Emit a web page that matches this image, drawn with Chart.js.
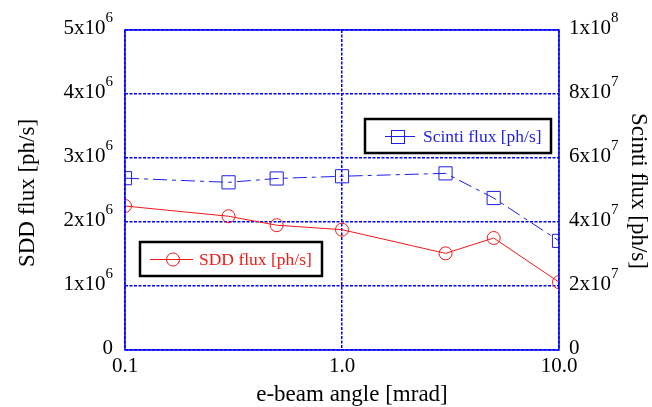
<!DOCTYPE html>
<html>
<head>
<meta charset="utf-8">
<script src="https://cdn.jsdelivr.net/npm/chart.js@4"></script>
<style>
  html, body { margin: 0; padding: 0; background: #fff; }
  #wrap { width: 652px; height: 407px; position: relative; }
</style>
</head>
<body>
<div id="wrap"><canvas id="fluxChart"></canvas></div>
<script>
// e-beam angle [mrad]
const angles = [0.1, 0.3, 0.5, 1.0, 3.0, 5.0, 10.0];
// SDD flux [ph/s] (left axis)
const sddFlux = [2.25e6, 2.09e6, 1.95e6, 1.88e6, 1.51e6, 1.75e6, 1.06e6];
// Scinti flux [ph/s] (right axis)
const scintiFlux = [5.37e7, 5.24e7, 5.36e7, 5.43e7, 5.52e7, 4.75e7, 3.41e7];

const xTickValues = [0.1, 1.0, 10.0];
const xTickLabels = ['0.1', '1.0', '10.0'];
const leftTickValues = [0, 1e6, 2e6, 3e6, 4e6, 5e6];
const leftTickMant = ['0', '1x10', '2x10', '3x10', '4x10', '5x10'];
const leftTickExp = ['', '6', '6', '6', '6', '6'];
const rightTickValues = [0, 2e7, 4e7, 6e7, 8e7, 1e8];
const rightTickMant = ['0', '2x10', '4x10', '6x10', '8x10', '1x10'];
const rightTickExp = ['', '7', '7', '7', '7', '8'];

const RED = 'rgb(240,25,25)';
const BLUE = 'rgb(30,30,230)';
const GRID = 'rgb(0,0,255)';
const SERIF = '"Liberation Serif", "Times New Roman", serif';

function toPoints(xs, ys) {
    return xs.map((x, i) => ({ x: x, y: ys[i] }));
}

function drawSupLabel(ctx, mant, exp, x, y, align) {
    ctx.font = '21px ' + SERIF;
    const wMain = ctx.measureText(mant).width;
    ctx.font = '15px ' + SERIF;
    const wExp = exp ? ctx.measureText(exp).width : 0;
    let start = align === 'right' ? x - wMain - wExp : x;
    ctx.textAlign = 'left';
    ctx.textBaseline = 'middle';
    ctx.font = '21px ' + SERIF;
    ctx.fillText(mant, start, y);
    if (exp) {
        ctx.font = '15px ' + SERIF;
        ctx.fillText(exp, start + wMain, y - 10);
    }
}

const labelsPlugin = {
    id: 'labelsPlugin',
    afterDraw(chart) {
        const ctx = chart.ctx;
        const area = chart.chartArea;
        const xs = chart.scales.x;
        const ys = chart.scales.y;
        const ys1 = chart.scales.y1;
        ctx.save();

        // plot frame
        ctx.strokeStyle = GRID;
        ctx.lineWidth = 1.5;
        ctx.strokeRect(area.left, area.top, area.right - area.left, area.bottom - area.top);

        ctx.fillStyle = '#000';
        // x tick labels
        ctx.font = '21px ' + SERIF;
        ctx.textAlign = 'center';
        ctx.textBaseline = 'middle';
        xTickValues.forEach((v, i) => {
            ctx.fillText(xTickLabels[i], xs.getPixelForValue(v), area.bottom + 16);
        });
        // left tick labels
        leftTickValues.forEach((v, i) => {
            drawSupLabel(ctx, leftTickMant[i], leftTickExp[i], area.left - 12, ys.getPixelForValue(v) - 2, 'right');
        });
        // right tick labels
        rightTickValues.forEach((v, i) => {
            drawSupLabel(ctx, rightTickMant[i], rightTickExp[i], area.right + 10, ys1.getPixelForValue(v) - 2, 'left');
        });

        // axis titles
        ctx.font = '23px ' + SERIF;
        ctx.textAlign = 'center';
        ctx.textBaseline = 'middle';
        ctx.fillText('e-beam angle [mrad]', 352, 395);
        ctx.save();
        ctx.translate(28, 193);
        ctx.rotate(-Math.PI / 2);
        ctx.fillText('SDD flux [ph/s]', 0, 0);
        ctx.restore();
        ctx.save();
        ctx.translate(638, 191);
        ctx.rotate(Math.PI / 2);
        ctx.fillText('Scinti flux [ph/s]', 0, 0);
        ctx.restore();

        // legend boxes
        ctx.lineWidth = 2.5;
        ctx.strokeStyle = '#000';
        ctx.fillStyle = '#fff';
        ctx.fillRect(365, 119, 186, 34);
        ctx.strokeRect(365, 119, 186, 34);
        ctx.fillRect(140, 242, 182, 34);
        ctx.strokeRect(140, 242, 182, 34);

        // Scinti legend sample
        ctx.lineWidth = 1;
        ctx.strokeStyle = BLUE;
        ctx.beginPath();
        ctx.moveTo(385, 136.5);
        ctx.lineTo(415, 136.5);
        ctx.stroke();
        ctx.strokeRect(391.5, 130.5, 13, 13);
        ctx.fillStyle = BLUE;
        ctx.font = '17.5px ' + SERIF;
        ctx.textAlign = 'left';
        ctx.fillText('Scinti flux [ph/s]', 423, 137);

        // SDD legend sample
        ctx.strokeStyle = RED;
        ctx.beginPath();
        ctx.moveTo(150, 259.5);
        ctx.lineTo(193, 259.5);
        ctx.stroke();
        ctx.beginPath();
        ctx.arc(173, 259.5, 6.5, 0, Math.PI * 2);
        ctx.stroke();
        ctx.fillStyle = RED;
        ctx.fillText('SDD flux [ph/s]', 199, 260);

        ctx.restore();
    }
};

const ctx = document.getElementById('fluxChart').getContext('2d');
new Chart(ctx, {
    type: 'line',
    data: {
        datasets: [{
            label: 'SDD flux [ph/s]',
            data: toPoints(angles, sddFlux),
            yAxisID: 'y',
            borderColor: RED,
            borderWidth: 1,
            backgroundColor: 'rgba(0,0,0,0)',
            pointStyle: 'circle',
            pointRadius: 6.5,
            pointBorderWidth: 1,
            pointBorderColor: RED,
            pointBackgroundColor: 'rgba(0,0,0,0)',
            tension: 0
        }, {
            label: 'Scinti flux [ph/s]',
            data: toPoints(angles, scintiFlux),
            yAxisID: 'y1',
            borderColor: BLUE,
            borderWidth: 1,
            borderDash: [14, 5, 4, 5],
            backgroundColor: 'rgba(0,0,0,0)',
            pointStyle: 'rect',
            pointRadius: 9.3,
            pointBorderWidth: 1,
            pointBorderColor: BLUE,
            pointBackgroundColor: 'rgba(0,0,0,0)',
            tension: 0
        }]
    },
    options: {
        responsive: true,
        maintainAspectRatio: false,
        animation: false,
        layout: {
            padding: { top: 30, left: 0, right: 0, bottom: 0 }
        },
        plugins: {
            legend: { display: false },
            tooltip: { enabled: false }
        },
        scales: {
            x: {
                type: 'logarithmic',
                min: 0.1,
                max: 10,
                afterBuildTicks: (s) => { s.ticks = xTickValues.map(v => ({ value: v })); },
                afterFit: (s) => { s.height = 57; },
                ticks: { display: false },
                grid: { color: GRID, lineWidth: 1.5, drawTicks: false },
                border: { display: false, dash: [3, 1.5] }
            },
            y: {
                position: 'left',
                min: 0,
                max: 5e6,
                afterBuildTicks: (s) => { s.ticks = leftTickValues.map(v => ({ value: v })); },
                afterFit: (s) => { s.width = 125; },
                ticks: { display: false },
                grid: { color: GRID, lineWidth: 1.5, drawTicks: false },
                border: { display: false, dash: [3, 1.5] }
            },
            y1: {
                position: 'right',
                min: 0,
                max: 1e8,
                afterBuildTicks: (s) => { s.ticks = rightTickValues.map(v => ({ value: v })); },
                afterFit: (s) => { s.width = 93; },
                ticks: { display: false },
                grid: { display: false, drawTicks: false },
                border: { display: false }
            }
        }
    },
    plugins: [labelsPlugin]
});
</script>
</body>
</html>
